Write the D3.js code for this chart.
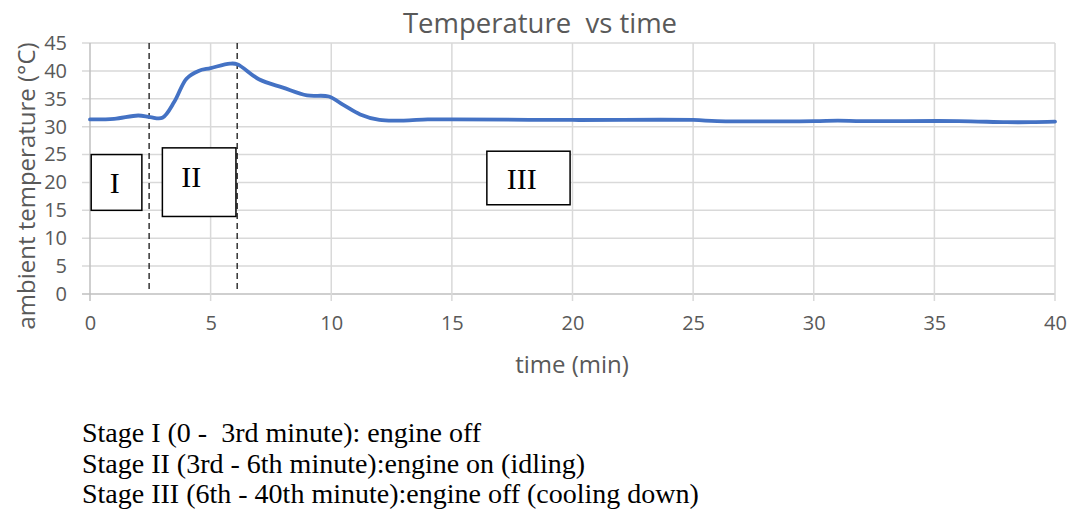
<!DOCTYPE html>
<html>
<head>
<meta charset="utf-8">
<script src="https://cdn.jsdelivr.net/npm/d3@7"></script>
<style>
  body { margin: 0; background: #fff; }
  svg text { font-family: "Open Sans", sans-serif; white-space: pre; }
</style>
</head>
<body>
<div id="chart"></div>
<script>
// data
var times = [0, 1, 2, 2.5, 3, 3.5, 4, 4.5, 5, 5.8, 6.1, 7, 8, 9, 9.9, 10.5, 11.2, 12, 13, 14, 15, 20, 25, 26, 30, 31, 32, 36, 38, 39, 40];
var temps = [31.3, 31.4, 32.0, 31.7, 31.6, 34.5, 38.6, 40.0, 40.5, 41.3, 41.2, 38.5, 37.0, 35.6, 35.4, 33.9, 32.2, 31.2, 31.1, 31.3, 31.3, 31.2, 31.2, 31.0, 31.0, 31.1, 31.0, 31.0, 30.8, 30.8, 30.9];
var xTicks = [0, 5, 10, 15, 20, 25, 30, 35, 40];
var yTicks = [0, 5, 10, 15, 20, 25, 30, 35, 40, 45];
var stageLines = [2.45, 6.1];
var stageBoxes = [
  { label: "I", x0: 0.05, x1: 2.15, y0: 25, y1: 15, tx: 1.03, ty: 19.9 },
  { label: "II", x0: 3.0, x1: 6.05, y0: 26.2, y1: 13.9, tx: 4.2, ty: 21.0 },
  { label: "III", x0: 16.45, x1: 19.9, y0: 25.6, y1: 16.0, tx: 17.9, ty: 20.6 }
];
var notes = [
  "Stage I (0 -  3rd minute): engine off",
  "Stage II (3rd - 6th minute):engine on (idling)",
  "Stage III (6th - 40th minute):engine off (cooling down)"
];

var W = 1069, H = 513;
var margin = { left: 90, right: 14, top: 43, bottom: 219 };
var width = W - margin.left - margin.right,
    height = H - margin.top - margin.bottom;

var svg = d3.select("#chart").append("svg")
    .attr("width", W).attr("height", H);

var g = svg.append("g")
    .attr("transform", "translate(" + margin.left + "," + margin.top + ")");

var x = d3.scaleLinear().domain([0, 40]).range([0, width]);
var y = d3.scaleLinear().domain([0, 45]).range([height, 0]);

// gridlines (they poke a little past the axes, like Excel tick marks)
g.selectAll(".hgrid").data(yTicks).enter().append("line")
    .attr("x1", -8).attr("x2", width)
    .attr("y1", function(d) { return y(d); })
    .attr("y2", function(d) { return y(d); })
    .style("stroke", function(d) { return d === 0 ? "#bfbfbf" : "#d9d9d9"; })
    .style("stroke-width", 1.5);

g.selectAll(".vgrid").data(xTicks).enter().append("line")
    .attr("x1", function(d) { return x(d); })
    .attr("x2", function(d) { return x(d); })
    .attr("y1", 0).attr("y2", height + 7)
    .style("stroke", function(d) { return d === 0 ? "#bfbfbf" : "#d9d9d9"; })
    .style("stroke-width", 1.5);

// tick labels
var xAxis = g.append("g")
    .attr("transform", "translate(0," + height + ")")
    .call(d3.axisBottom(x).tickValues(xTicks).tickSize(0).tickPadding(22));
xAxis.select(".domain").remove();
xAxis.selectAll("text").style("font-size", "20px").style("fill", "#595959")
    .style("font-family", "'Open Sans', sans-serif");

var yAxis = g.append("g")
    .call(d3.axisLeft(y).tickValues(yTicks).tickSize(0).tickPadding(23));
yAxis.select(".domain").remove();
yAxis.selectAll("text").style("font-size", "20px").style("fill", "#595959")
    .style("font-family", "'Open Sans', sans-serif");

// stage dividers
g.selectAll(".stage").data(stageLines).enter().append("line")
    .attr("x1", function(d) { return x(d); })
    .attr("x2", function(d) { return x(d); })
    .attr("y1", 0).attr("y2", height - 4)
    .style("stroke", "#000")
    .style("stroke-width", 1.2)
    .style("stroke-dasharray", "6,4");

// the temperature curve
var pts = times.map(function(t, i) { return [t, temps[i]]; });
var line = d3.line()
    .x(function(d) { return x(d[0]); })
    .y(function(d) { return y(d[1]); })
    .curve(d3.curveCatmullRom.alpha(0.5));

g.append("path")
    .datum(pts)
    .attr("d", line)
    .style("fill", "none")
    .style("stroke", "#4472c4")
    .style("stroke-width", 3.8)
    .style("stroke-linecap", "round");

// stage boxes
var boxes = g.selectAll(".box").data(stageBoxes).enter().append("g");
boxes.append("rect")
    .attr("x", function(d) { return x(d.x0); })
    .attr("y", function(d) { return y(d.y0); })
    .attr("width", function(d) { return x(d.x1) - x(d.x0); })
    .attr("height", function(d) { return y(d.y1) - y(d.y0); })
    .style("fill", "#fff")
    .style("stroke", "#000")
    .style("stroke-width", 1.5);
boxes.append("text")
    .attr("x", function(d) { return x(d.tx); })
    .attr("y", function(d) { return y(d.ty); })
    .attr("dy", "0.33em")
    .attr("text-anchor", "middle")
    .style("font-family", "'Liberation Serif', 'DejaVu Serif', serif")
    .style("font-size", "30px")
    .text(function(d) { return d.label; });

// title and axis titles
svg.append("text")
    .attr("x", 540).attr("y", 33)
    .attr("text-anchor", "middle")
    .style("font-size", "27.5px")
    .style("fill", "#595959")
    .text("Temperature  vs time");

svg.append("text")
    .attr("transform", "translate(35,186) rotate(-90)")
    .attr("text-anchor", "middle")
    .style("font-size", "24px")
    .style("fill", "#595959")
    .text("ambient temperature (°C)");

svg.append("text")
    .attr("x", 572).attr("y", 373)
    .attr("text-anchor", "middle")
    .style("font-size", "24px")
    .style("fill", "#595959")
    .text("time (min)");

// stage notes below chart
svg.selectAll(".note").data(notes).enter().append("text")
    .attr("x", 82)
    .attr("y", function(d, i) { return 442 + i * 30.5; })
    .style("font-family", "'Liberation Serif', 'Times New Roman', serif")
    .style("font-size", "28px")
    .style("fill", "#000")
    .text(function(d) { return d; });
</script>
</body>
</html>
